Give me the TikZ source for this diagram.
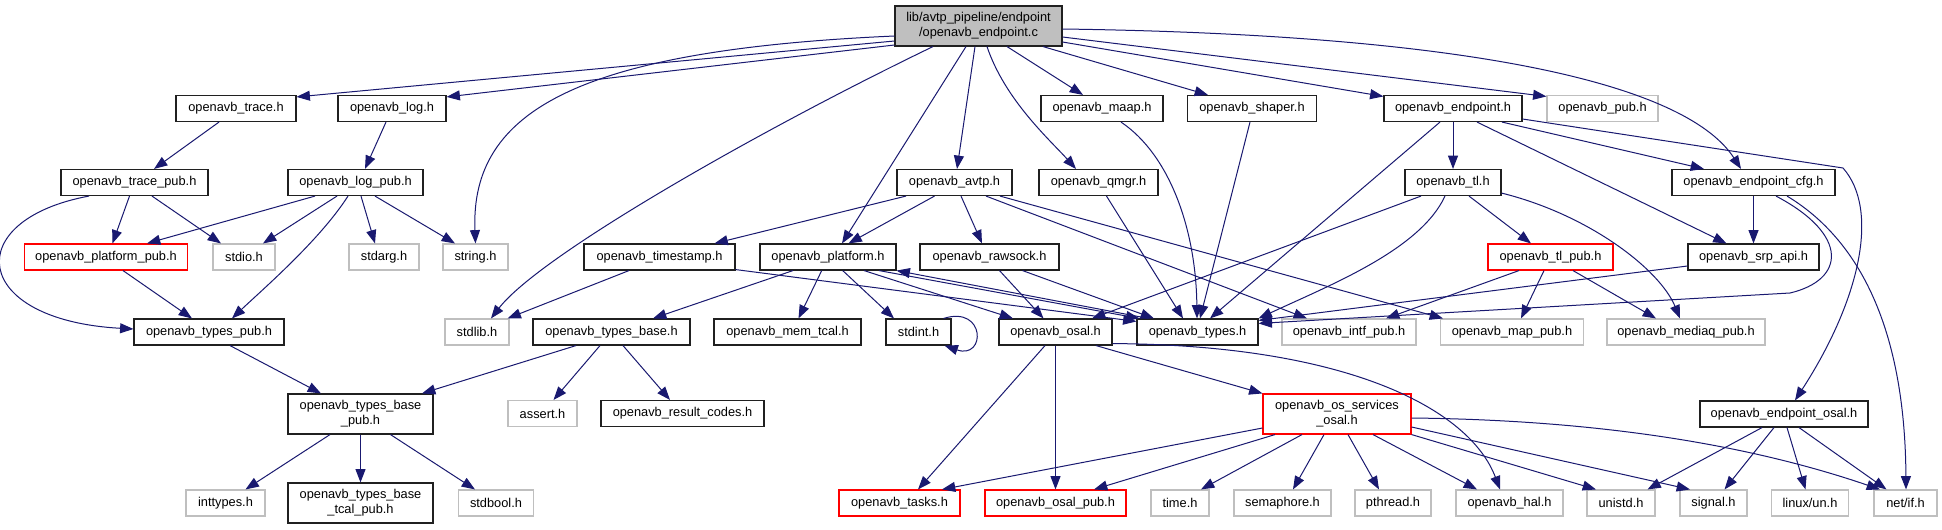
\documentclass[tikz,border=0pt]{standalone}
\usepackage{fontspec}
\setmainfont{Liberation Sans}
\usetikzlibrary{arrows.meta,calc}
\definecolor{edgec}{HTML}{191970}
\definecolor{sysc}{HTML}{BFBFBF}
\definecolor{trc}{HTML}{FF0000}
\definecolor{bordc}{HTML}{202020}
\begin{document}
\begin{tikzpicture}[x=0.75pt,y=-0.75pt,
  box/.style={draw=bordc,line width=0.85pt,inner sep=0pt,minimum height=19.5pt,font=\fontsize{9.6}{11.25}\selectfont,align=center,fill=white},
  sysbox/.style={box,draw=sysc},
  trbox/.style={box,draw=trc},
  tall/.style={minimum height=30pt},
  bw/.style={minimum width=#1*0.75pt},
  lnk/.style={draw=edgec,line width=0.75pt,-{Triangle[length=10pt,width=7.5pt]}},
]
\fill[white] (0,0) rectangle (1942,529);
\useasboundingbox (0,0) rectangle (1942,529);

% root
\node[box,tall,bw=167,fill=sysc] (root) at (978.5,26) {lib/avtp\_pipeline/endpoint\\/openavb\_endpoint.c};
% row 1
\node[box,bw=120] (trace) at (236,108.5) {openavb\_trace.h};
\node[box,bw=108] (log) at (392,108.5) {openavb\_log.h};
\node[box,bw=122] (maap) at (1102,108.5) {openavb\_maap.h};
\node[box,bw=129] (shaper) at (1252,108.5) {openavb\_shaper.h};
\node[box,bw=138] (endpoint) at (1453,108.5) {openavb\_endpoint.h};
\node[sysbox,bw=111] (pub) at (1602.5,108.5) {openavb\_pub.h};
% row 2
\node[box,bw=147] (tracepub) at (134.5,182.5) {openavb\_trace\_pub.h};
\node[box,bw=135] (logpub) at (355.5,182.5) {openavb\_log\_pub.h};
\node[box,bw=115] (avtp) at (954.5,182.5) {openavb\_avtp.h};
\node[box,bw=119] (qmgr) at (1098.5,182.5) {openavb\_qmgr.h};
\node[box,bw=96] (tl) at (1453,182.5) {openavb\_tl.h};
\node[box,bw=163] (cfg) at (1753.5,182.5) {openavb\_endpoint\_cfg.h};
% row 3
\node[trbox,bw=163] (ppub) at (106,257) {openavb\_platform\_pub.h};
\node[sysbox,bw=62] (stdio) at (244,257) {stdio.h};
\node[sysbox,bw=70] (stdarg) at (384,257) {stdarg.h};
\node[sysbox,bw=65] (string) at (475.5,257) {string.h};
\node[box,bw=151] (timestamp) at (659.5,257) {openavb\_timestamp.h};
\node[box,bw=136] (platform) at (828,257) {openavb\_platform.h};
\node[box,bw=139] (rawsock) at (989.5,257) {openavb\_rawsock.h};
\node[trbox,bw=125] (tlpub) at (1550.5,257) {openavb\_tl\_pub.h};
\node[box,bw=131] (srp) at (1753.5,257) {openavb\_srp\_api.h};
% row 4
\node[box,bw=150] (typespub) at (209,332) {openavb\_types\_pub.h};
\node[sysbox,bw=64] (stdlib) at (477,332) {stdlib.h};
\node[box,bw=157] (tbase) at (611.5,332) {openavb\_types\_base.h};
\node[box,bw=147] (memtcal) at (787.5,332) {openavb\_mem\_tcal.h};
\node[box,bw=65] (stdint) at (918.5,332) {stdint.h};
\node[box,bw=113] (osal) at (1055.5,332) {openavb\_osal.h};
\node[box,bw=121] (types) at (1197.5,332) {openavb\_types.h};
\node[sysbox,bw=134] (intf) at (1349,332) {openavb\_intf\_pub.h};
\node[sysbox,bw=142.5] (map) at (1512,332) {openavb\_map\_pub.h};
\node[sysbox,bw=158] (mediaq) at (1686,332) {openavb\_mediaq\_pub.h};
% row 5
\node[box,tall,bw=145] (tbpub) at (360.5,414) {openavb\_types\_base\\\_pub.h};
\node[sysbox,bw=69] (assert) at (542.5,413.5) {assert.h};
\node[box,bw=163] (result) at (682.5,413.5) {openavb\_result\_codes.h};
\node[trbox,tall,bw=148] (oss) at (1337,414) {openavb\_os\_services\\\_osal.h};
\node[box,bw=168] (eosal) at (1784,414) {openavb\_endpoint\_osal.h};
% row 6
\node[sysbox,bw=79] (inttypes) at (225.5,503) {inttypes.h};
\node[box,tall,bw=145] (tcal) at (360.5,503) {openavb\_types\_base\\\_tcal\_pub.h};
\node[sysbox,bw=75] (stdbool) at (496,503) {stdbool.h};
\node[trbox,bw=121] (tasks) at (899.5,503) {openavb\_tasks.h};
\node[trbox,bw=141] (osalpub) at (1055.5,503) {openavb\_osal\_pub.h};
\node[sysbox,bw=58] (time) at (1180,503) {time.h};
\node[sysbox,bw=97] (sem) at (1282.5,503) {semaphore.h};
\node[sysbox,bw=76] (pthread) at (1393,503) {pthread.h};
\node[sysbox,bw=107] (hal) at (1509.5,503) {openavb\_hal.h};
\node[sysbox,bw=68] (unistd) at (1621,503) {unistd.h};
\node[sysbox,bw=67] (signal) at (1713.5,503) {signal.h};
\node[sysbox,bw=77] (linuxun) at (1810,503) {linux/un.h};
\node[sysbox,bw=63] (netif) at (1905.5,503) {net/if.h};

% root edges
\draw[lnk] ($(root.west)+(0,15)$) -- ($(trace.north east)+(0,2)$);
\draw[lnk] ($(root.west)+(0,19)$) -- ($(log.north east)+(0,2)$);
\draw[lnk] ($(root.west)+(0,10)$) .. controls (580,50) and (470,110) .. (string.north);
\draw[lnk] ($(root.south)+(-45.5,0)$) .. controls (760,130) and (540,255) .. ($(stdlib.north)+(14,0)$);
\draw[lnk] ($(root.south)+(-12.5,0)$) -- ($(platform.north)+(14,0)$);
\draw[lnk] ($(root.south)+(-3.5,0)$) -- ($(avtp.north)+(2.5,0)$);
\draw[lnk] ($(root.south)+(8.5,0)$) .. controls (1005,100) and (1050,140) .. ($(qmgr.north)+(-22.5,0)$);
\draw[lnk] ($(root.south)+(28.5,0)$) -- ($(maap.north)+(-19,0)$);
\draw[lnk] ($(root.south)+(64.5,0)$) -- ($(shaper.north)+(-44,0)$);
\draw[lnk] ($(root.east)+(0,16)$) -- ($(endpoint.north west)+(0,1.5)$);
\draw[lnk] ($(root.east)+(0,11)$) -- ($(pub.north west)+(0,1.5)$);
\draw[lnk] ($(root.east)+(0,3)$) .. controls (1500,35) and (1690,90) .. ($(cfg.north)+(-12.5,0)$);

% trace / log
\draw[lnk] ($(trace.south)+(-17,0)$) -- ($(tracepub.north)+(19.5,0)$);
\draw[lnk] ($(log.south)+(-6,0)$) -- ($(logpub.north)+(9.5,0)$);
\draw[lnk] ($(tracepub.south)+(-5,0)$) -- ($(ppub.north)+(6.5,0)$);
\draw[lnk] ($(tracepub.south)+(17.5,0)$) -- ($(stdio.north)+(-23,0)$);
\draw[lnk] ($(tracepub.south)+(-45.5,0)$) .. controls (-40,220) and (-30,320) .. ($(typespub.west)+(0,-3)$);
\draw[lnk] ($(logpub.south)+(-40.5,0)$) -- ($(ppub.north)+(41,0)$);
\draw[lnk] ($(logpub.south)+(-18.5,0)$) -- ($(stdio.north)+(19,0)$);
\draw[lnk] ($(logpub.south)+(-7.5,0)$) .. controls (320,240) and (262,290) .. ($(typespub.north)+(23,0)$);
\draw[lnk] ($(logpub.south)+(5.5,0)$) -- ($(stdarg.north)+(-9,0)$);
\draw[lnk] ($(logpub.south)+(19.5,0)$) -- ($(string.north)+(-20.5,0)$);
\draw[lnk] ($(ppub.south)+(17,0)$) -- ($(typespub.north)+(-17,0)$);
\draw[lnk] ($(typespub.south)+(21,0)$) -- ($(tbpub.north)+(-39.5,0)$);
\draw[lnk] ($(tbpub.south)+(-30.5,0)$) -- ($(inttypes.north)+(20,0)$);
\draw[lnk] (tbpub.south) -- (tcal.north);
\draw[lnk] ($(tbpub.south)+(30,0)$) -- ($(stdbool.north)+(-21,0)$);
\draw[lnk] ($(tbase.south)+(-35.5,0)$) -- ($(tbpub.north)+(61.5,0)$);
\draw[lnk] ($(tbase.south)+(-11.5,0)$) -- ($(assert.north)+(11,0)$);
\draw[lnk] ($(tbase.south)+(11.5,0)$) -- ($(result.north)+(-12.5,0)$);

% timestamp / platform / rawsock
\draw[lnk] ($(timestamp.south)+(-30.5,0)$) -- ($(stdlib.north east)+(-2,0)$);
\draw[lnk] ($(timestamp.south east)+(0,-1)$) -- ($(types.north west)+(0,3)$);
\draw[lnk] ($(platform.south)+(-35,0)$) -- ($(tbase.north)+(41.5,0)$);
\draw[lnk] ($(platform.south)+(-6.3,0)$) -- ($(memtcal.north)+(11,0)$);
\draw[lnk] ($(platform.south)+(14.7,0)$) -- ($(stdint.north)+(-24.5,0)$);
\draw[lnk] ($(platform.south)+(36,0)$) -- ($(osal.north)+(-42.5,0)$);
\draw[lnk] ($(platform.south)+(51,0)$) -- ($(types.north west)+(3,0)$);
\draw[lnk] ($(types.north west)+(12,0)$) -- (platform.south east);
\draw[lnk] ($(stdint.north east)+(-8,0)$) .. controls (986,305) and (986,360) .. ($(stdint.south east)+(-7,0)$);
\draw[lnk] ($(rawsock.south)+(10,0)$) -- ($(osal.north)+(-12,0)$);
\draw[lnk] ($(rawsock.south)+(33,0)$) -- ($(types.north)+(-43.5,0)$);

% avtp
\draw[lnk] ($(avtp.south)+(-48.5,0)$) -- ($(timestamp.north)+(55,0)$);
\draw[lnk] ($(avtp.south)+(-20,0)$) -- ($(platform.north)+(20.5,0)$);
\draw[lnk] ($(avtp.south)+(6.5,0)$) -- ($(rawsock.north)+(-7.5,0)$);
\draw[lnk] ($(avtp.south)+(31.5,0)$) -- ($(intf.north)+(-42,0)$);
\draw[lnk] ($(avtp.south)+(45.5,0)$) -- ($(map.north)+(-69,0)$);

% qmgr / maap / shaper
\draw[lnk] ($(qmgr.south)+(8,0)$) -- ($(types.north)+(-14.5,0)$);
\draw[lnk] ($(maap.south)+(19,0)$) .. controls (1170,155) and (1196,230) .. ($(types.north)+(-0.5,0)$);
\draw[lnk] ($(shaper.south)+(-2,0)$) -- ($(types.north)+(2.5,0)$);

% endpoint
\draw[lnk] ($(endpoint.south)+(-13,0)$) -- ($(types.north)+(12.5,0)$);
\draw[lnk] (endpoint.south) -- (tl.north);
\draw[lnk] ($(endpoint.south)+(24,0)$) -- ($(srp.north)+(-27,0)$);
\draw[lnk] ($(endpoint.south)+(49,0)$) -- ($(cfg.north)+(-49.5,0)$);
\draw[lnk] ($(endpoint.east)+(0,10.5)$) -- (1843,168) .. controls (1880,210) and (1860,300) .. ($(eosal.north)+(11,0)$);

% tl
\draw[lnk] ($(tl.south)+(16,0)$) -- ($(tlpub.north)+(-19.5,0)$);
\draw[lnk] ($(tl.south)+(-32,0)$) -- ($(osal.north)+(36.5,0)$);
\draw[lnk] ($(tl.south)+(-8,0)$) .. controls (1420,250) and (1330,285) .. (types.north east);
\draw[lnk] ($(tl.south east)+(0,-3)$) .. controls (1590,215) and (1660,270) .. ($(mediaq.north)+(-6,0)$);
\draw[lnk] ($(tlpub.south)+(-31.5,0)$) -- ($(intf.north)+(37,0)$);
\draw[lnk] ($(tlpub.south)+(-6.5,0)$) -- ($(map.north)+(9,0)$);
\draw[lnk] ($(tlpub.south)+(22.5,0)$) -- ($(mediaq.north)+(-30,0)$);

% srp / cfg
\draw[lnk] ($(srp.west)+(0,9)$) -- ($(types.north east)+(0,2)$);
\draw[lnk] (cfg.south) -- (srp.north);
\draw[lnk] ($(cfg.south)+(22.5,0)$) .. controls (1850,235) and (1845,280) .. (1790,293) -- ($(types.north east)+(0,5)$);
\draw[lnk] ($(cfg.south)+(33.5,0)$) .. controls (1860,240) and (1905,330) .. ($(netif.north)+(0.5,0)$);

% endpoint_osal
\draw[lnk] ($(eosal.south)+(-22,0)$) -- ($(unistd.north)+(26.5,0)$);
\draw[lnk] ($(eosal.south)+(-10,0)$) -- ($(signal.north)+(11,0)$);
\draw[lnk] ($(eosal.south)+(3,0)$) -- ($(linuxun.north)+(-4.5,0)$);
\draw[lnk] ($(eosal.south)+(15,0)$) -- ($(netif.north)+(-19,0)$);

% osal
\draw[lnk] ($(osal.south)+(-10.5,0)$) -- ($(tasks.north)+(18.5,0)$);
\draw[lnk] (osal.south) -- (osalpub.north);
\draw[lnk] ($(osal.south)+(40.5,0)$) -- (oss.north west);
\draw[lnk] ($(osal.south east)+(0,-2)$) .. controls (1350,345) and (1470,410) .. ($(hal.north)+(-9.5,0)$);

% os_services
\draw[lnk] ($(oss.west)+(0,14)$) -- ($(tasks.north)+(42.5,0)$);
\draw[lnk] ($(oss.south)+(-62,0)$) -- ($(osalpub.north)+(38.5,0)$);
\draw[lnk] ($(oss.south)+(-35,0)$) -- ($(time.north)+(21,0)$);
\draw[lnk] ($(oss.south)+(-13,0)$) -- ($(sem.north)+(10.5,0)$);
\draw[lnk] ($(oss.south)+(11,0)$) -- ($(pthread.north)+(-14,0)$);
\draw[lnk] ($(oss.south)+(36,0)$) -- ($(hal.north)+(-32.5,0)$);
\draw[lnk] (oss.south east) -- ($(unistd.north)+(-25,0)$);
\draw[lnk] ($(oss.east)+(0,13)$) -- ($(signal.north)+(-23.5,0)$);
\draw[lnk] ($(oss.east)+(0,4)$) .. controls (1600,420) and (1750,445) .. ($(netif.north)+(-25.5,0)$);
\end{tikzpicture}
\end{document}
